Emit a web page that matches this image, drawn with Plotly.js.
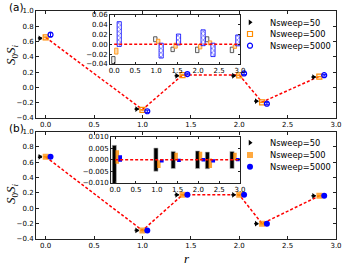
<!DOCTYPE html>
<html><head><meta charset="utf-8">
<script src="https://cdn.plot.ly/plotly-3.0.1.min.js"></script>
<style>html,body{margin:0;padding:0;background:#fff}#plot{width:345px;height:269px}</style>
</head><body><div id="plot"></div>
<script>
// ---- data ----
const seriesNames = ["Nsweep=50", "Nsweep=500", "Nsweep=5000"];
const rVals = [0, 1, 1.414, 2, 2.236, 2.828];
const xTicks = [0, 0.5, 1, 1.5, 2, 2.5, 3];

// panel (a) main
const exactA = [0.655, -0.290, 0.163, 0.163, -0.192, 0.145];
const a50   = [0.643, -0.283, 0.153, 0.153, -0.180, 0.136];
const a500  = [0.656, -0.294, 0.162, 0.158, -0.195, 0.141];
const a5000 = [0.690, -0.312, 0.175, 0.183, -0.213, 0.160];
// panel (a) inset: deviations and errors
const dA50   = [-0.032, 0.010, -0.0105, -0.0115, 0.010, -0.0115];
const eA50   = [0.007, 0.005, 0.0045, 0.0055, 0.005, 0.0055];
const dA500  = [-0.014, 0.006, -0.003, -0.005, 0.0027, -0.005];
const eA500  = [0.006, 0.004, 0.005, 0.0045, 0.004, 0.0035];
const dA5000 = [0.0205, -0.013, 0.0095, 0.013, -0.0115, 0.0077];
const eA5000 = [0.025, 0.015, 0.011, 0.016, 0.0135, 0.011];

// panel (b) main
const exactB = [0.670, -0.289, 0.175, 0.175, -0.200, 0.162];
const b50   = [0.670, -0.288, 0.175, 0.175, -0.200, 0.162];
const b500  = [0.671, -0.290, 0.176, 0.176, -0.202, 0.163];
const b5000 = [0.670, -0.289, 0.175, 0.175, -0.200, 0.162];
// panel (b) inset
const dB50   = [-0.003, 0.00005, -0.0001, 0.0, -0.0003, -0.0001];
const eB50   = [0.0092, 0.005, 0.0037, 0.0038, 0.0036, 0.0037];
const dB500  = [0.0012, -0.0019, 0.0014, 0.0016, -0.0015, 0.0014];
const eB500  = [0.0029, 0.0017, 0.0016, 0.0018, 0.002, 0.0016];
const dB5000 = [0.0005, -0.0005, -0.0003, 0.0, -0.0005, 0.0001];
const eB5000 = [0.0014, 0.0007, 0.0007, 0.0007, 0.0007, 0.0007];

// ---- styling ----
const BLACK = "#000000", ORANGE = "#ff8c00", BLUE = "#0000ff";
const DASH = "3px,2px";
const mainOff = [-0.06, 0, 0.05];
const insetOff = [-0.02, 0.05, 0.12];
const shift = (arr, o) => arr.map(v => v + o);

const traces = [];
// main (a)
traces.push({x: rVals, y: exactA, xaxis: "x", yaxis: "y", mode: "lines", showlegend: false,
  line: {color: "red", dash: DASH, width: 1.5}, hoverinfo: "skip"});
const mainA = [[a50, eA50], [a500, eA500], [a5000, eA5000]];
const symA = [
  {symbol: "triangle-right", size: 5, color: BLACK},
  {symbol: "square-open", size: 5, color: ORANGE, line: {width: 1.2, color: ORANGE}},
  {symbol: "circle-open", size: 5, color: BLUE, line: {width: 1.2, color: BLUE}}
];
const errCol = [BLACK, ORANGE, BLUE];
mainA.forEach((s, i) => {
  traces.push({x: shift(rVals, mainOff[i]), y: s[0], xaxis: "x", yaxis: "y", mode: "markers",
    name: seriesNames[i], legend: ["legend", "legend2", "legend3"][i], marker: symA[i],
    error_y: {type: "data", array: s[1], color: errCol[i], thickness: 1, width: 2}});
});
// inset (a)
traces.push({x: [0, 3], y: [0, 0], xaxis: "x2", yaxis: "y2", mode: "lines", showlegend: false,
  line: {color: "red", dash: DASH, width: 1.5}});
const insA = [[dA50, eA50], [dA500, eA500], [dA5000, eA5000]];
const barStyleA = [
  {color: "#f4f4f4", line: {color: "#333", width: 0.8}},
  {color: "#ffd9a8", line: {color: ORANGE, width: 0.8}},
  {color: "#ffffff", line: {color: BLUE, width: 0.8},
   pattern: {shape: "x", fgcolor: BLUE, bgcolor: "#ffffff", size: 3, solidity: 0.25}}
];
const barWA = [0.08, 0.08, 0.1];
insA.forEach((s, i) => {
  traces.push({type: "bar", x: shift(rVals, insetOff[i]), y: s[1].map(e => 2 * e),
    base: s[0].map((d, k) => d - s[1][k]), width: barWA[i], xaxis: "x2", yaxis: "y2",
    showlegend: false, marker: barStyleA[i]});
});
// main (b)
traces.push({x: rVals, y: exactB, xaxis: "x3", yaxis: "y3", mode: "lines", showlegend: false,
  line: {color: "red", dash: DASH, width: 1.5}});
const mainB = [[b50, eB50], [b500, eB500], [b5000, eB5000]];
const symB = [
  {symbol: "triangle-right", size: 5, color: BLACK},
  {symbol: "square", size: 6, color: "rgba(255,140,0,0.75)"},
  {symbol: "circle", size: 6, color: BLUE}
];
mainB.forEach((s, i) => {
  traces.push({x: shift(rVals, mainOff[i]), y: s[0], xaxis: "x3", yaxis: "y3", mode: "markers",
    name: seriesNames[i], legend: ["legend4", "legend5", "legend6"][i], marker: symB[i],
    error_y: {type: "data", array: s[1], color: errCol[i], thickness: 1, width: 2}});
});
// inset (b)
traces.push({x: [0, 3], y: [0, 0], xaxis: "x4", yaxis: "y4", mode: "lines", showlegend: false,
  line: {color: "red", dash: DASH, width: 1.5}});
const insB = [[dB50, eB50], [dB500, eB500], [dB5000, eB5000]];
const barStyleB = [
  {color: "#000000", line: {color: "#bbbbbb", width: 0.6}},
  {color: "rgba(255,140,0,0.8)", line: {color: "rgba(255,140,0,0.8)", width: 0}},
  {color: BLUE, line: {color: BLUE, width: 0}}
];
const barWB = [0.1, 0.085, 0.09];
insB.forEach((s, i) => {
  traces.push({type: "bar", x: shift(rVals, insetOff[i]), y: s[1].map(e => 2 * e),
    base: s[0].map((d, k) => d - s[1][k]), width: barWB[i], xaxis: "x4", yaxis: "y4",
    showlegend: false, marker: barStyleB[i]});
});

const W = 345, H = 269;
const px = v => v / W, py = v => 1 - v / H;
const tickFont = {family: "DejaVu Sans", size: 7, color: "#000"};
const baseAx = {showgrid: false, zeroline: false, showline: true, linecolor: "#222", linewidth: 1,
  mirror: "allticks", ticks: "inside", ticklen: 3, tickcolor: "#222", tickfont: tickFont};
const xMain = Object.assign({}, baseAx, {range: [-0.1, 3.0], tickvals: xTicks, tickformat: ".1f"});
const yMain = Object.assign({}, baseAx, {range: [-0.4, 1.0], dtick: 0.2, tick0: 0, tickformat: ".1f"});
const xIns = Object.assign({}, baseAx, {range: [-0.1, 3.0], tickvals: xTicks, tickformat: ".1f", ticklen: 2});

const legFont = {family: "DejaVu Sans", size: 8.3, color: "#000"};
function leg(yTop) { return {x: px(230), y: py(yTop), xanchor: "left", yanchor: "middle",
  bgcolor: "rgba(0,0,0,0)", font: legFont, borderwidth: 0}; }
const ann = (text, x, y, font, extra) => Object.assign({text: text, x: px(x), y: py(y), xref: "paper",
  yref: "paper", showarrow: false, xanchor: "center", yanchor: "middle", font: font}, extra || {});
const labFont = {family: "DejaVu Sans", size: 10.5, color: "#000"};
const mathFont = {family: "Liberation Serif", size: 13, color: "#000"};
const ylab = "<i>S</i><sub>0</sub><i>S</i><sub><i>i</i></sub>";

const layout = {
  width: W, height: H, margin: {l: 0, r: 0, t: 0, b: 0},
  paper_bgcolor: "#fff", plot_bgcolor: "#fff", showlegend: true, barmode: "overlay",
  xaxis: Object.assign({}, xMain, {domain: [px(36), px(336)], anchor: "y"}),
  yaxis: Object.assign({}, yMain, {domain: [py(118), py(11)], anchor: "x"}),
  xaxis2: Object.assign({}, xIns, {domain: [px(110), px(240)], anchor: "y2"}),
  yaxis2: Object.assign({}, baseAx, {domain: [py(64), py(14.5)], anchor: "x2", range: [-0.04, 0.06],
    dtick: 0.02, tick0: 0, tickformat: ".2f", ticklen: 2}),
  xaxis3: Object.assign({}, xMain, {domain: [px(36), px(336)], anchor: "y3"}),
  yaxis3: Object.assign({}, yMain, {domain: [py(239), py(131.5)], anchor: "x3"}),
  xaxis4: Object.assign({}, xIns, {domain: [px(111), px(240)], anchor: "y4"}),
  yaxis4: Object.assign({}, baseAx, {domain: [py(183), py(136.5)], anchor: "x4", range: [-0.010, 0.010],
    dtick: 0.005, tick0: 0, tickformat: ".3f", ticklen: 2}),
  legend: leg(22.3), legend2: leg(34), legend3: leg(45.7),
  legend4: leg(142.7), legend5: leg(155), legend6: leg(166.7),
  annotations: [
    ann("(a)", 16, 7, labFont),
    ann("(b)", 16, 128, labFont),
    ann(ylab, 11, 55, mathFont, {textangle: -90}),
    ann(ylab, 11, 194, mathFont, {textangle: -90}),
    ann("<i>r</i>", 187, 258, mathFont)
  ]
};
Plotly.newPlot("plot", traces, layout, {displayModeBar: false, staticPlot: true});
</script></body></html>
